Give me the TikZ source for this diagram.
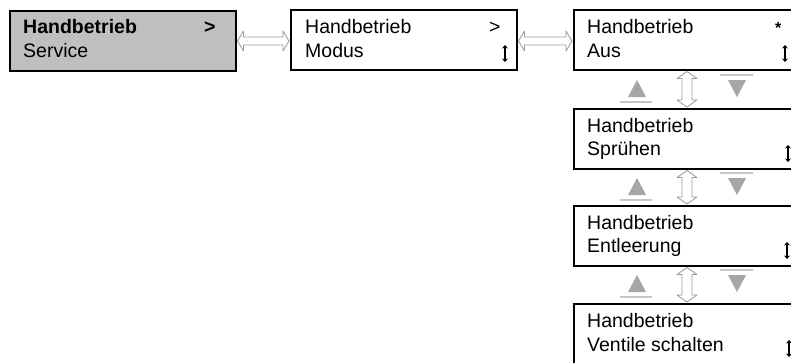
\documentclass[tikz,border=0pt]{standalone}
\usepackage{fontspec}
\setmainfont{Liberation Sans}
\usetikzlibrary{arrows.meta,calc}
\newcommand{\mydblh}[2]{%
  \draw[dbl] ($(#1)+(1,0)$) -- ($(#1)+(7,-10)$) -- ($(#1)+(7,-4)$) -- ($(#2)+(-7,-4)$) -- ($(#2)+(-7,-10)$) -- ($(#2)+(-1,0)$) -- ($(#2)+(-7,10)$) -- ($(#2)+(-7,4)$) -- ($(#1)+(7,4)$) -- ($(#1)+(7,10)$) -- cycle;}
\newcommand{\mydblv}[2]{%
  \draw[dbl] ($(#1)+(0,1)$) -- ($(#1)+(10,8)$) -- ($(#1)+(5,8)$) -- ($(#2)+(5,-8)$) -- ($(#2)+(10,-8)$) -- ($(#2)+(0,-1)$) -- ($(#2)+(-10,-8)$) -- ($(#2)+(-5,-8)$) -- ($(#1)+(-5,8)$) -- ($(#1)+(-10,8)$) -- cycle;}
\begin{document}
\begin{tikzpicture}[x=1pt,y=-1pt,
  menubox/.style={draw=black,line width=1.5pt,minimum width=226pt,minimum height=60pt,anchor=north west,inner sep=0pt},
  txt/.style={anchor=base west,inner sep=0pt,font=\fontsize{19.5}{22}\selectfont},
  txtb/.style={anchor=base west,inner sep=0pt,font=\bfseries\fontsize{19.5}{22}\selectfont},
  dbl/.style={draw=gray!80,fill=white,line width=0.8pt,line join=round},
  scrollmark/.style={line width=1.3pt,{Stealth[length=3.5pt,width=6pt]}-{Stealth[length=3.5pt,width=6pt]}},
  tri/.style={fill=gray!70,draw=none},
  bar/.style={draw=gray!45,line width=1.5pt}]
\clip (0,0) rectangle (791,362);
\fill[white] (0,0) rectangle (791,362);
% boxes
\node[menubox,fill=gray!50] (b1) at (9,10) {};
\node[menubox] (b2) at (290,9) {};
\node[menubox] (b3) at (573,9) {};
\node[menubox] (b4) at (573,108) {};
\node[menubox] (b5) at (573,205) {};
\node[menubox] (b6) at (573,303) {};
% texts
\node[txtb] (t1a) at (23,33) {Handbetrieb};
\node[txt] (t1b) at (23,57) {Service};
\node[txtb] (t1c) at (204,33) {>};
\node[txt] (t2a) at (305,33) {Handbetrieb};
\node[txt] (t2b) at (305,57) {Modus};
\node[txt] (t2c) at (489,33) {>};
\node[txt] (t3a) at (587,33) {Handbetrieb};
\node[txt] (t3b) at (587,57) {Aus};
\node[txt,font=\bfseries\fontsize{16}{16}\selectfont] (t3c) at (775,33) {*};
\node[txt] (t4a) at (587,132) {Handbetrieb};
\node[txt] (t4b) at (587,155) {Sprühen};
\node[txt] (t5a) at (587,229) {Handbetrieb};
\node[txt] (t5b) at (587,252) {Entleerung};
\node[txt] (t6a) at (587,327) {Handbetrieb};
\node[txt] (t6b) at (587,351) {Ventile schalten};
% scroll marks
\draw[scrollmark] (505,45) -- (505,62);
\draw[scrollmark] (785,45) -- (785,62);
\draw[scrollmark] (788,145) -- (788,162);
\draw[scrollmark] (787,242) -- (787,259);
\draw[scrollmark] (789,340) -- (789,357);
% horizontal double arrows
\coordinate (hy) at (0,41);
\coordinate (h1a) at (b1.east |- hy);
\coordinate (h1b) at (b2.west |- hy);
\coordinate (h2a) at (b2.east |- hy);
\coordinate (h2b) at (b3.west |- hy);
\mydblh{h1a}{h1b}
\mydblh{h2a}{h2b}
% vertical double arrows
\coordinate (ax) at (687,0);
\coordinate (v1a) at (b3.south -| ax);
\coordinate (v1b) at (b4.north -| ax);
\coordinate (v2a) at (b4.south -| ax);
\coordinate (v2b) at (b5.north -| ax);
\coordinate (v3a) at (b5.south -| ax);
\coordinate (v3b) at (b6.north -| ax);
\mydblv{v1a}{v1b}
\mydblv{v2a}{v2b}
\mydblv{v3a}{v3b}
% up/down triangles
\foreach \cy in {88.5,186.5,283.5}{
  \fill[tri] (628,\cy+8.5) -- (646,\cy+8.5) -- (637,\cy-8.5) -- cycle;
  \draw[bar] (620,\cy+13.5) -- (652,\cy+13.5);
  \fill[tri] (728,\cy-8.5) -- (746,\cy-8.5) -- (737,\cy+8.5) -- cycle;
  \draw[bar] (720,\cy-13.5) -- (753,\cy-13.5);
}
\end{tikzpicture}
\end{document}
